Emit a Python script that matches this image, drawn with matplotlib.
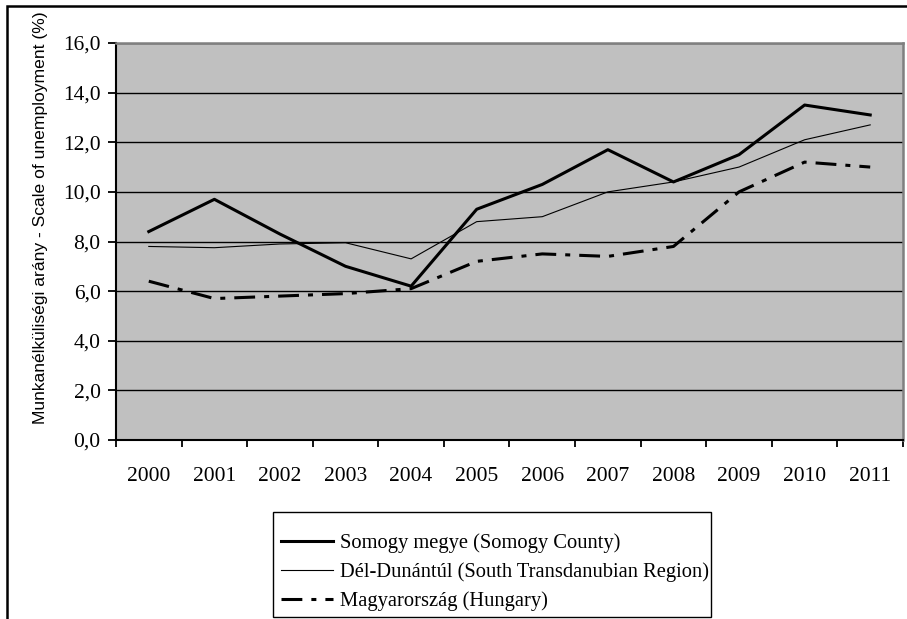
import matplotlib
matplotlib.use("Agg")
from matplotlib import pyplot as plt
from matplotlib.patches import Rectangle

plt.rcParams["lines.scale_dashes"] = False

years = ["2000", "2001", "2002", "2003", "2004", "2005",
         "2006", "2007", "2008", "2009", "2010", "2011"]
somogy = [8.4, 9.7, 8.3, 7.0, 6.2, 9.3, 10.3, 11.7, 10.4, 11.5, 13.5, 13.1]
del_dunantul = [7.8, 7.75, 7.9, 7.95, 7.3, 8.8, 9.0, 10.0, 10.4, 11.0, 12.1, 12.7]
hungary = [6.4, 5.7, 5.8, 5.9, 6.1, 7.2, 7.5, 7.4, 7.8, 10.0, 11.2, 11.0]

labels = ["Somogy megye (Somogy County)",
          "Dél-Dunántúl (South Transdanubian Region)",
          "Magyarország (Hungary)"]
yticks = [0, 2, 4, 6, 8, 10, 12, 14, 16]

serif = "Liberation Serif"
sans = "Liberation Sans"
W, H = 907, 619

fig = plt.figure(figsize=(W / 100, H / 100), dpi=100)
ax = fig.add_axes([116 / W, 1 - 440 / H, (903 - 116) / W, (440 - 43) / H])
ax.set_facecolor("#c0c0c0")

x = list(range(len(years)))
ax.plot(x, somogy, color="black", lw=2.2, label=labels[0], zorder=3)
ax.plot(x, del_dunantul, color="black", lw=0.8, label=labels[1], zorder=3)
ax.plot(x, hungary, color="black", lw=2.2, label=labels[2], zorder=3,
        linestyle=(0, (15, 6.5, 3.6, 6.5)))

ax.set_xlim(-0.5, len(years) - 0.5)
ax.set_ylim(0, 16)
ax.set_yticks(yticks)
ax.set_yticklabels([f"{v:.1f}".replace(".", ",") for v in yticks],
                   fontfamily=serif, fontsize=15.5)
ax.set_xticks(x)
ax.set_xticklabels(years, fontfamily=serif, fontsize=15.5)
ax.set_xticks([i - 0.5 for i in range(len(years) + 1)], minor=True)
ax.tick_params(axis="x", which="major", length=0, pad=19.5)
ax.tick_params(axis="x", which="minor", length=5, width=1.3, direction="out")
ax.tick_params(axis="y", length=6, width=1.3, pad=5)

ax.yaxis.grid(True, color="black", lw=1.0)
ax.set_axisbelow(True)
for s in ["left", "bottom"]:
    ax.spines[s].set_color("black")
    ax.spines[s].set_linewidth(1.5)
for s in ["top", "right"]:
    ax.spines[s].set_color("#808080")
    ax.spines[s].set_linewidth(1.8)

fig.text(41 / W, 1 - 218 / H,
         "Munkanélküliségi arány - Scale of unemployment (%)",
         rotation=90, ha="center", va="center", fontfamily=sans, fontsize=12.6)

# legend without its own frame, box drawn separately (Excel-like padding)
leg = fig.legend(loc="upper left", bbox_to_anchor=(281 / W, 1 - 533 / H),
                 prop={"family": serif, "size": 14.8}, frameon=False,
                 handlelength=2.53, handletextpad=0.34, labelspacing=0.46,
                 borderpad=0, borderaxespad=0)
fig.patches.append(Rectangle((273 / W, 1 - 617 / H), (711 - 273) / W,
                             (617 - 512) / H, transform=fig.transFigure,
                             fill=False, edgecolor="black", lw=1.0))

# outer frame of the chart (bottom and right edge cut off in the source)
fig.patches.append(Rectangle((7 / W, -0.1), 1.2, 1.1 - 6 / H,
                             transform=fig.transFigure, fill=False,
                             edgecolor="black", lw=1.8, clip_on=False))

fig.savefig("out.png", dpi=100)
